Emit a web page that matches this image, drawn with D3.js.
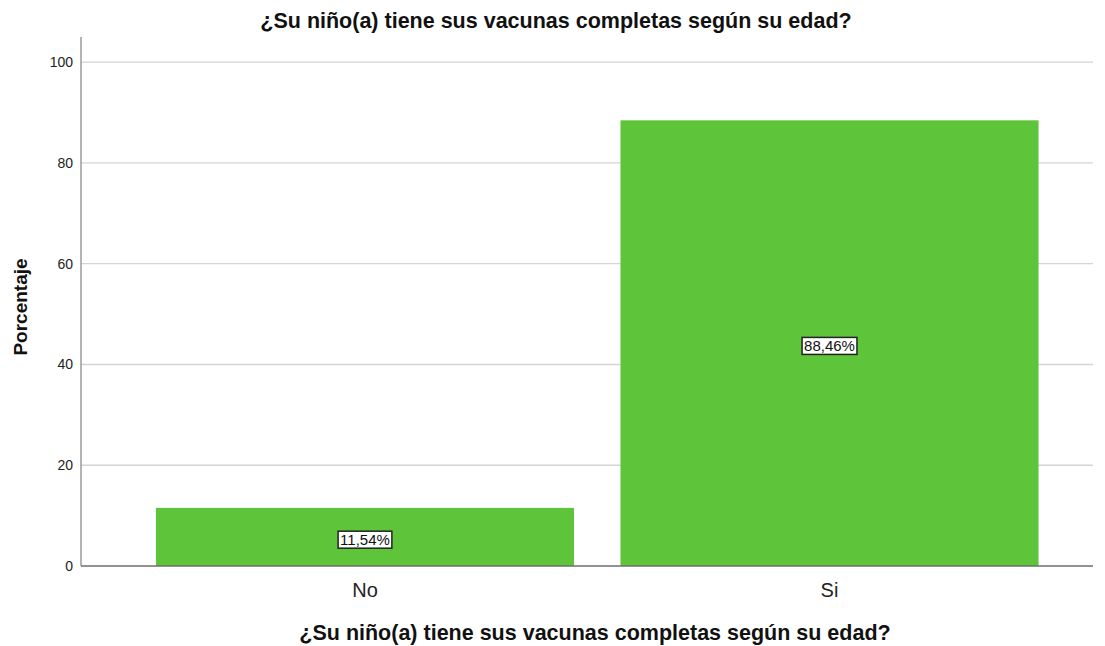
<html>
<head>
<meta charset="utf-8">
<script src="https://d3js.org/d3.v7.min.js"></script>
<style>
  body { margin: 0; background: #fff; }
  text { font-family: 'Liberation Sans', Arial, sans-serif; }
</style>
</head>
<body>
<script>
var categories = ["No", "Si"];
var values = [11.54, 88.46];
var yTicks = [0, 20, 40, 60, 80, 100];
var title = "¿Su niño(a) tiene sus vacunas completas según su edad?";

var width = 1105, height = 646;
var plotLeft = 81, plotRight = 1093, plotTop = 37, plotBottom = 566;

var svg = d3.select("body").append("svg")
  .attr("width", width).attr("height", height);

var y = d3.scaleLinear().domain([0, 105]).range([plotBottom, plotTop]);
var x = d3.scaleBand().domain(categories)
  .range([109.5, 1085]).paddingInner(0.1).paddingOuter(0.1);

// gridlines
svg.selectAll("line.grid").data(yTicks.filter(function(d) { return d > 0; }))
  .enter().append("line")
  .attr("x1", plotLeft).attr("x2", plotRight)
  .attr("y1", function(d) { return y(d); }).attr("y2", function(d) { return y(d); })
  .attr("stroke", "#d4d4d4").attr("stroke-width", 1.3);

// bars
svg.selectAll("rect.bar").data(values).enter().append("rect")
  .attr("x", function(d, i) { return x(categories[i]); })
  .attr("width", x.bandwidth())
  .attr("y", function(d) { return y(d); })
  .attr("height", function(d) { return y(0) - y(d); })
  .attr("fill", "#5ec43a");

// axes lines
svg.append("line").attr("x1", plotLeft).attr("x2", plotLeft).attr("y1", plotTop).attr("y2", plotBottom)
  .attr("stroke", "#8c8c8c").attr("stroke-width", 1.3);
svg.append("line").attr("x1", plotLeft).attr("x2", plotRight).attr("y1", plotBottom).attr("y2", plotBottom)
  .attr("stroke", "#6e6e6e").attr("stroke-width", 1.3);

// y tick labels
svg.selectAll("text.ytick").data(yTicks).enter().append("text")
  .attr("x", plotLeft - 8).attr("y", function(d) { return y(d); })
  .attr("dy", "0.35em").attr("text-anchor", "end")
  .attr("font-size", 14).attr("fill", "#222")
  .text(function(d) { return d; });

// x labels
svg.selectAll("text.xtick").data(categories).enter().append("text")
  .attr("x", function(d) { return x(d) + x.bandwidth() / 2; })
  .attr("y", 597).attr("text-anchor", "middle")
  .attr("font-size", 20).attr("fill", "#222")
  .text(function(d) { return d; });

// value labels
values.forEach(function(v, i) {
  var cx = x(categories[i]) + x.bandwidth() / 2;
  var cy = (y(v) + y(0)) / 2 + 3;
  var label = v.toFixed(2).replace(".", ",") + "%";
  var g = svg.append("g");
  var t = g.append("text").attr("x", cx).attr("y", cy).attr("dy", "0.35em")
    .attr("text-anchor", "middle").attr("font-size", 15).attr("fill", "#111")
    .text(label);
  var bb = t.node().getBBox();
  g.insert("rect", "text")
    .attr("x", bb.x - 2).attr("y", bb.y)
    .attr("width", bb.width + 4).attr("height", bb.height)
    .attr("fill", "#fff").attr("stroke", "#222").attr("stroke-width", 1.5);
});

// titles
svg.append("text").attr("x", 556).attr("y", 28).attr("text-anchor", "middle")
  .attr("font-size", 21.5).attr("font-weight", "bold").attr("fill", "#111").text(title);
svg.append("text").attr("x", 595).attr("y", 640).attr("text-anchor", "middle")
  .attr("font-size", 21.5).attr("font-weight", "bold").attr("fill", "#111").text(title);
svg.append("text").attr("transform", "translate(27,307) rotate(-90)")
  .attr("text-anchor", "middle").attr("font-size", 19).attr("font-weight", "bold")
  .attr("fill", "#111").text("Porcentaje");
</script>
</body>
</html>
